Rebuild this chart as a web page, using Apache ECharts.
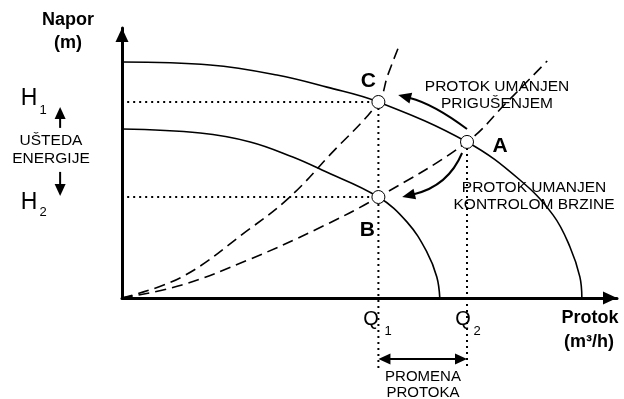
<!DOCTYPE html>
<html><head><meta charset="utf-8">
<script src="https://cdn.jsdelivr.net/npm/echarts@6/dist/echarts.min.js"></script>
<style>html,body{margin:0;padding:0;background:#fff}#c{width:624px;height:399px}</style>
</head><body><div id="c"></div>
<script>
// ---- data (Q and H in percent of axis length) ----
const pumpFull = [[0,87.4],[17.8,86.3],[31.3,82.6],[41.4,78.1],[51.8,72.6],[69.7,57.8],[80.4,43.7],[87.1,30.7],[90.5,18.9],[92.5,7.8],[92.9,0]];
const pumpReduced = [[0,62.6],[15.8,61.1],[25.9,57.8],[34.5,52.2],[40.4,47.4],[51.8,37.4],[57.6,28.1],[61.6,17.0],[63.6,7.8],[64.2,0]];
const systemThrottled = [[0,0],[12.1,7.8],[25.5,25.2],[33.9,37.4],[42.0,53.0],[51.8,72.6],[53.7,82.6],[55.8,92.6]];
const systemOriginal = [[0,0],[12.1,4.8],[25.5,14.1],[39.0,25.2],[51.8,37.4],[69.7,57.8],[77.8,72.6],[85.9,87.8]];
const pointNames = ['C','A','B'];
const pointQ = [51.8, 69.7, 51.8];
const pointH = [72.6, 57.8, 37.4];
const Q1 = 51.8, Q2 = 69.7, H1 = 72.6, H2 = 37.4, HA = 57.8;
const guideLeft = -13.5, guideBottom = -25.9;
const labelOffsets = [[-10,-21],[33,4],[-11,33]];

const chart = echarts.init(document.getElementById('c'), null, {renderer:'canvas'});
const dotted = {color:'#000', width:2, type:[2,4]};
const dashed = {color:'#000', width:1.6, type:[11,6]};
const solid = {color:'#000', width:1.6};
function lineSeries(data, style, smooth){
  return {type:'line', data, smooth: smooth||false, showSymbol:false, symbol:'none', lineStyle:style, clip:false, silent:true, z:2, animation:false};
}
const option = {
  animation:false,
  grid:{left:122, right:7, top:28, bottom:101},
  xAxis:{type:'value', min:0, max:100, splitLine:{show:false}, axisTick:{show:false}, axisLabel:{show:false},
    axisLine:{show:true, onZero:false, symbol:['none','triangle'], symbolSize:[13,14], symbolOffset:[0,-7], lineStyle:{color:'#000', width:3}}},
  yAxis:{type:'value', min:0, max:100, splitLine:{show:false}, axisTick:{show:false}, axisLabel:{show:false},
    axisLine:{show:true, onZero:false, symbol:['none','triangle'], symbolSize:[13,14], symbolOffset:[0,-7], lineStyle:{color:'#000', width:3}}},
  series:[
    lineSeries(pumpFull, solid, 0.4),
    lineSeries(pumpReduced, solid, 0.4),
    lineSeries(systemThrottled, dashed, 0.4),
    lineSeries(systemOriginal, dashed, 0.4),
    lineSeries([[guideLeft,H1],[Q1,H1]], dotted),
    lineSeries([[guideLeft,H2],[Q1,H2]], dotted),
    lineSeries([[Q1,H1],[Q1,guideBottom]], dotted),
    lineSeries([[Q2,HA],[Q2,guideBottom]], dotted),
    {type:'scatter', z:5, symbol:'circle', symbolSize:13, clip:false, silent:true,
     itemStyle:{color:'#fff', borderColor:'#000', borderWidth:1, opacity:1},
     data: pointNames.map((n,i)=>({value:[pointQ[i], pointH[i]], name:n,
       label:{show:true, formatter:n, position:'inside', offset:labelOffsets[i], color:'#000', fontSize:21, fontWeight:'bold', fontFamily:'Liberation Sans, Arial'}}))}
  ]
};
chart.setOption(option);

// ---- annotations ----
const P = (q,h) => chart.convertToPixel({gridIndex:0}, [q,h]);
const g = [];
function text(t, x, y, size, bold, align){
  g.push({type:'text', z:10, style:{text:t, x, y, fill:'#000', font:(bold?'bold ':'')+size+'px "Liberation Sans", Arial, sans-serif', textAlign:align||'center', textVerticalAlign:'middle'}});
}
function head(tip, from, len, wid){
  const dx = tip[0]-from[0], dy = tip[1]-from[1], d = Math.hypot(dx,dy);
  const ux = dx/d, uy = dy/d;
  const bx = tip[0]-ux*len, by = tip[1]-uy*len;
  g.push({type:'polygon', z:10, shape:{points:[tip,[bx-uy*wid/2, by+ux*wid/2],[bx+uy*wid/2, by-ux*wid/2]]}, style:{fill:'#000'}});
  return [bx+ux*1, by+uy*1];
}
function straightArrow(a, b, both){
  let s = a, e = head(b, a, 12, 11);
  if (both) s = head(a, b, 12, 11);
  g.push({type:'line', z:9, shape:{x1:s[0],y1:s[1],x2:e[0],y2:e[1]}, style:{stroke:'#000', lineWidth:2}});
}
function curvedArrow(a, cp, b){
  const e = head(b, cp, 13, 11);
  g.push({type:'bezierCurve', z:9, shape:{x1:a[0],y1:a[1],cpx1:cp[0],cpy1:cp[1],x2:e[0],y2:e[1]}, style:{stroke:'#000', lineWidth:2, fill:null}});
}
curvedArrow(P(69.7,62.6), P(62.9,71.9), P(55.8,75.2));
curvedArrow(P(68.7,53.7), P(65.9,41.5), P(56.6,37.4));
straightArrow(P(Q1,-22.6), P(Q2,-22.6), true);
straightArrow(P(-12.5,63.0), P(-12.5,70.7));
straightArrow(P(-12.5,46.7), P(-12.5,37.8));

text('Napor', 68, 20, 18, true); text('(m)', 68, 43, 18, true);
text('Protok', 590, 318, 18, true); text('(m³/h)', 589, 342, 18, true);
text('H', 29, 99, 23); text('1', 43, 110, 13);
text('H', 29, 203, 23); text('2', 43, 212, 13);
text('UŠTEDA', 51, 141, 15.5); text('ENERGIJE', 51, 159, 15.5);
text('Q', 371, 319, 20); text('1', 388, 331, 13);
text('Q', 463, 319, 20); text('2', 477, 331, 13);
text('PROMENA', 423, 377, 15); text('PROTOKA', 423, 393, 15);
text('PROTOK UMANJEN', 497, 87, 15.5); text('PRIGUŠENJEM', 497, 104, 15.5);
text('PROTOK UMANJEN', 534, 188, 15.5); text('KONTROLOM BRZINE', 534, 205, 15.5);
chart.setOption({graphic:{elements:g}});
</script></body></html>
